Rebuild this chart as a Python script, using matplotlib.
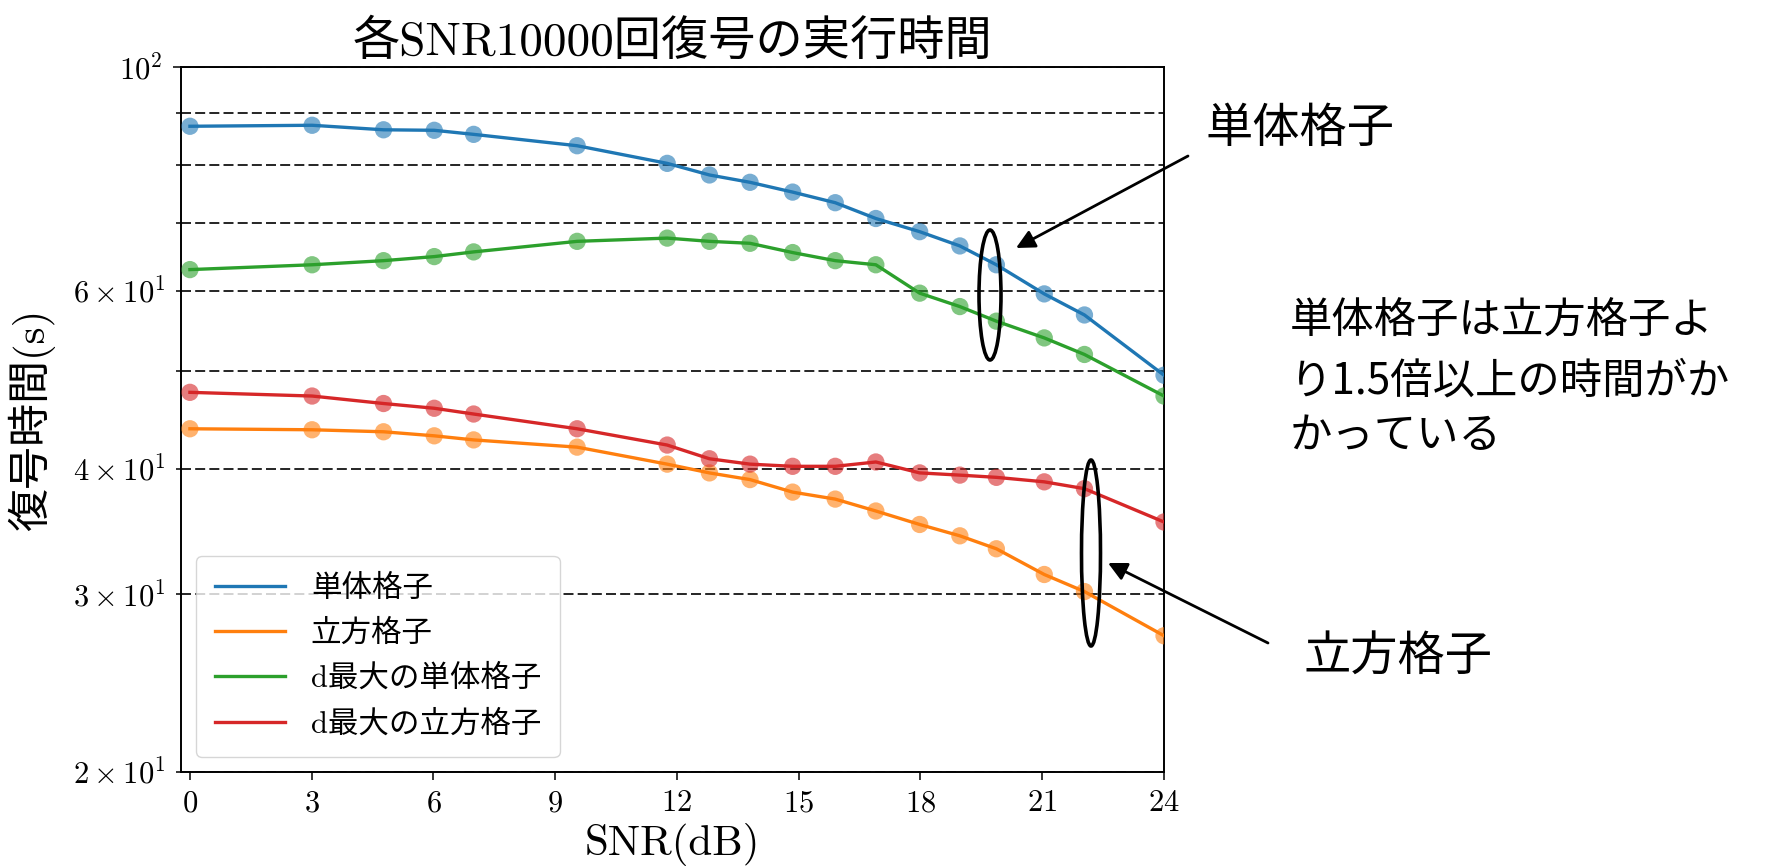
import matplotlib
matplotlib.use("Agg")
import matplotlib.pyplot as plt
from matplotlib.patches import Ellipse

plt.rcParams['font.family'] = ['cmr10', 'Noto Sans CJK JP']
plt.rcParams['mathtext.fontset'] = 'cm'
plt.rcParams['axes.formatter.use_mathtext'] = True

# SNR (dB) at which decoding was timed
snr_db = [0.0, 3.01, 4.77, 6.02, 6.99, 9.54, 11.76, 12.8, 13.8, 14.85,
          15.9, 16.9, 17.98, 18.97, 19.87, 21.05, 22.04, 24.0]

# Execution time (s) of 10000 decodings per SNR
simplex = [87.4, 87.6, 86.7, 86.6, 85.8, 83.6, 80.3, 78.2, 76.9, 75.2,
           73.4, 70.8, 68.7, 66.5, 63.7, 59.6, 56.8, 49.5]
cubic = [43.8, 43.7, 43.5, 43.1, 42.7, 42.0, 40.4, 39.6, 39.0, 37.9,
         37.3, 36.3, 35.2, 34.3, 33.3, 31.4, 30.2, 27.3]
simplex_dmax = [63.0, 63.7, 64.3, 64.9, 65.6, 67.2, 67.7, 67.2, 66.9, 65.5,
                64.3, 63.7, 59.7, 57.9, 56.0, 53.9, 51.9, 47.2]
cubic_dmax = [47.6, 47.2, 46.4, 45.9, 45.3, 43.8, 42.2, 40.9, 40.4, 40.2,
              40.2, 40.6, 39.6, 39.4, 39.2, 38.8, 38.2, 35.4]

series_labels = ['単体格子', '立方格子', 'd最大の単体格子', 'd最大の立方格子']
series_values = [simplex, cubic, simplex_dmax, cubic_dmax]
series_colors = ['tab:blue', 'tab:orange', 'tab:green', 'tab:red']
xtick_values = [0, 3, 6, 9, 12, 15, 18, 21, 24]

W, H = 1777, 867
fig = plt.figure(figsize=(W / 100, H / 100), dpi=100)
ax = fig.add_axes([181 / W, 1 - 772 / H, (1164 - 181) / W, (772 - 67.3) / H])

for label, values, color in zip(series_labels, series_values, series_colors):
    ax.plot(snr_db, values, color=color, lw=2.4, label=label, zorder=3)
    ax.scatter(snr_db, values, color=color, s=155, alpha=0.6,
               edgecolors='none', zorder=4)

ax.set_yscale('log')
ax.set_ylim(20, 100)
ax.set_xlim(-0.22, 24)
ax.set_xticks(xtick_values)
ax.grid(which='both', axis='y', color='black', linestyle=(0, (6, 2.5)),
        linewidth=1.2)
ax.grid(which='both', axis='x', visible=False)

for sp in ax.spines.values():
    sp.set_linewidth(1.4)
ax.tick_params(which='major', length=6, width=1.1, labelsize=22)
ax.tick_params(which='minor', length=3.8, width=1.1, labelsize=22)
ax.tick_params(axis='x', pad=7)
ax.tick_params(axis='y', which='both', pad=7)

ax.set_title('各SNR10000回復号の実行時間', fontsize=34, pad=9)
ax.set_xlabel('SNR(dB)', fontsize=31, labelpad=4)
ax.set_ylabel('復号時間(s)', fontsize=31)
ax.yaxis.set_label_coords(-0.128, 0.5)

ax.legend(loc='lower left', fontsize=22, handlelength=2.3,
          handletextpad=0.85, labelspacing=0.55, borderpad=0.6)

# Callouts drawn in figure pixel space
def fx(px):
    return px / W

def fy(py):
    return 1 - py / H

for cx, cy, ew, eh in [(990, 295, 22, 130), (1091, 553, 19, 186)]:
    fig.patches.append(Ellipse((fx(cx), fy(cy)), ew / W, eh / H,
                               transform=fig.transFigure, fill=False,
                               edgecolor='black', lw=2.6, zorder=10))

for (tx, ty), (hx, hy) in [((1188, 156), (1016, 248)),
                           ((1268, 643), (1108, 563))]:
    ax.annotate('', xy=(fx(hx), fy(hy)), xytext=(fx(tx), fy(ty)),
                xycoords='figure fraction', textcoords='figure fraction',
                arrowprops=dict(arrowstyle='-|>', color='black', lw=2,
                                mutation_scale=28, shrinkA=0, shrinkB=0))

note_font = dict(family='Noto Sans CJK JP', fontsize=34, color='black',
                 va='center', ha='left')
para_font = dict(note_font, fontsize=30.5)
fig.text(fx(1206), fy(129), '単体格子', **note_font)
fig.text(fx(1290), fy(322), '単体格子は立方格子よ', **para_font)
fig.text(fx(1290), fy(381), 'り1.5倍以上の時間がか', **para_font)
fig.text(fx(1290), fy(436), 'かっている', **para_font)
fig.text(fx(1303), fy(657), '立方格子', **note_font)

fig.savefig('out.png', dpi=100)
